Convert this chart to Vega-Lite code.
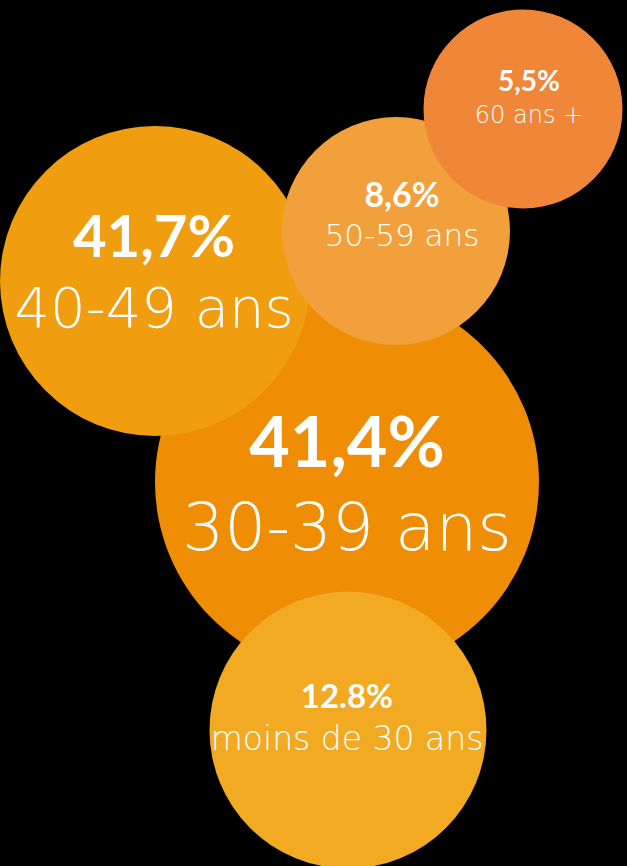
{
  "$schema": "https://vega.github.io/schema/vega-lite/v6.json",
  "width": 627,
  "height": 866,
  "padding": 0,
  "autosize": "none",
  "background": "#000000",
  "config": {"view": {"stroke": null}},
  "data": {
    "values": [
      {"group": "30-39 ans", "pct": "41,4%", "x": 347, "y": 482, "diam2": 147456, "tx": 347, "pctY": 467, "labY": 550},
      {"group": "40-49 ans", "pct": "41,7%", "x": 155, "y": 281, "diam2": 96100, "tx": 154, "pctY": 257, "labY": 327},
      {"group": "50-59 ans", "pct": "8,6%", "x": 396, "y": 231, "diam2": 51984, "tx": 402, "pctY": 207, "labY": 246},
      {"group": "60 ans +", "pct": "5,5%", "x": 523, "y": 109, "diam2": 39601, "tx": 529, "pctY": 91, "labY": 123},
      {"group": "moins de 30 ans", "pct": "12.8%", "x": 348, "y": 730, "diam2": 76729, "tx": 347, "pctY": 708, "labY": 750}
    ]
  },
  "layer": [
    {
      "mark": {"type": "point", "shape": "circle", "filled": true, "opacity": 1, "strokeWidth": 0},
      "encoding": {
        "x": {"field": "x", "type": "quantitative", "scale": {"domain": [0, 627], "nice": false, "zero": false}, "axis": null},
        "y": {"field": "y", "type": "quantitative", "scale": {"domain": [866, 0], "nice": false, "zero": false}, "axis": null},
        "size": {"field": "diam2", "type": "quantitative", "scale": null, "legend": null},
        "color": {"field": "group", "type": "nominal", "legend": null,
          "scale": {"domain": ["30-39 ans", "40-49 ans", "50-59 ans", "60 ans +", "moins de 30 ans"],
                    "range": ["#EF8D05", "#F09E10", "#F2A03C", "#F08637", "#F2AA22"]}}
      }
    },
    {
      "mark": {"type": "text", "align": "center", "baseline": "alphabetic", "font": "Lato", "fontWeight": "bold", "color": "#ffffff"},
      "encoding": {
        "x": {"field": "tx", "type": "quantitative", "scale": {"domain": [0, 627], "nice": false, "zero": false}, "axis": null},
        "y": {"field": "pctY", "type": "quantitative", "scale": {"domain": [866, 0], "nice": false, "zero": false}, "axis": null},
        "text": {"field": "pct"},
        "size": {"field": "group", "type": "nominal", "legend": null,
          "scale": {"type": "ordinal", "domain": ["30-39 ans", "40-49 ans", "50-59 ans", "60 ans +", "moins de 30 ans"],
                    "range": [70, 58, 34, 28, 33]}}
      }
    },
    {
      "mark": {"type": "text", "align": "center", "baseline": "alphabetic", "font": "DejaVu Sans", "fontWeight": 200, "color": "#ffffff"},
      "encoding": {
        "x": {"field": "tx", "type": "quantitative", "scale": {"domain": [0, 627], "nice": false, "zero": false}, "axis": null},
        "y": {"field": "labY", "type": "quantitative", "scale": {"domain": [866, 0], "nice": false, "zero": false}, "axis": null},
        "text": {"field": "group"},
        "size": {"field": "group", "type": "nominal", "legend": null,
          "scale": {"type": "ordinal", "domain": ["30-39 ans", "40-49 ans", "50-59 ans", "60 ans +", "moins de 30 ans"],
                    "range": [66, 56, 31, 24, 33]}}
      }
    }
  ],
  "resolve": {"scale": {"size": "independent", "x": "shared", "y": "shared"}}
}
